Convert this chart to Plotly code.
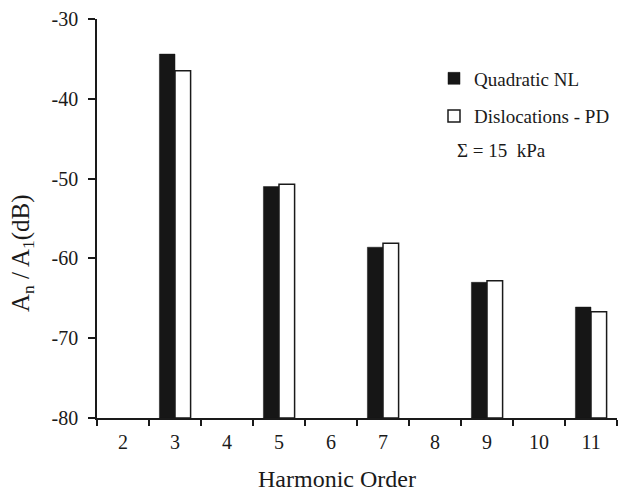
import plotly.graph_objects as go

# Harmonic orders on the x axis and the level of each harmonic relative to the fundamental (dB)
harmonics = ["2", "3", "4", "5", "6", "7", "8", "9", "10", "11"]
quadratic_nl = [None, -34.4, None, -51.0, None, -58.6, None, -63.0, None, -66.1]
dislocations_pd = [None, -36.5, None, -50.7, None, -58.1, None, -62.8, None, -66.7]
y_ticks = [-80, -70, -60, -50, -40, -30]
y_tick_text = ["-80", "-70", "-60", "-50", "-40", "-30"]

BASE = -80  # bars rise from the bottom of the dB scale
FONT = "Times New Roman, Times, Liberation Serif, DejaVu Serif, serif"
INK = "#1a1a1a"


def heights(values):
    return [None if v is None else v - BASE for v in values]


fig = go.Figure()
fig.add_trace(go.Bar(
    x=harmonics, y=heights(quadratic_nl), base=BASE,
    name="Quadratic NL", legendgroup="q",
    marker=dict(color="#161616", line=dict(color="#161616", width=0.5)),
))
fig.add_trace(go.Bar(
    x=harmonics, y=heights(dislocations_pd), base=BASE,
    name="Dislocations - PD", legendgroup="d",
    marker=dict(color="white", line=dict(color=INK, width=1.5)),
))

fig.add_annotation(
    text="\u03a3 = 15  kPa", xref="paper", yref="paper",
    x=(455 - 97) / 520, y=(418 - 150) / 399, xanchor="left", yanchor="middle",
    showarrow=False, font=dict(family=FONT, size=19, color=INK),
)
fig.add_annotation(
    text="A<sub>n</sub> / A<sub>1</sub>(dB)", xref="paper", yref="paper",
    x=(22 - 97) / 520, y=(418 - 253) / 399, xanchor="center", yanchor="middle",
    textangle=-90, showarrow=False, font=dict(family=FONT, size=25, color=INK),
)
fig.add_annotation(
    text="Harmonic Order", xref="paper", yref="paper",
    x=(336.7 - 97) / 520, y=(418 - 479) / 399, xanchor="center", yanchor="middle",
    showarrow=False, font=dict(family=FONT, size=24, color=INK),
)

fig.update_layout(
    width=623, height=493,
    margin=dict(l=97, r=6, t=19, b=75),
    paper_bgcolor="white", plot_bgcolor="white",
    barmode="group", bargap=0.4, bargroupgap=0,
    font=dict(family=FONT, size=20, color=INK),
    showlegend=True,
    legend=dict(
        x=(434 - 97) / 520, y=(418 - 59.5) / 399, xanchor="left", yanchor="top",
        bgcolor="rgba(0,0,0,0)", traceorder="grouped", tracegroupgap=10,
        font=dict(family=FONT, size=19, color=INK),
    ),
    xaxis=dict(
        type="category", tickson="boundaries", ticks="outside", ticklen=6,
        tickwidth=1.5, tickcolor=INK, showline=True, linecolor=INK, linewidth=1.5,
        showgrid=False, ticklabelstandoff=5,
    ),
    yaxis=dict(
        range=[-80, -30], tickvals=y_ticks, ticktext=y_tick_text,
        ticks="outside", ticklen=7,
        tickwidth=1.5, tickcolor=INK, showline=True, linecolor=INK, linewidth=1.5,
        showgrid=False, zeroline=False, ticklabelstandoff=6,
    ),
)

fig.write_html("out.html")
